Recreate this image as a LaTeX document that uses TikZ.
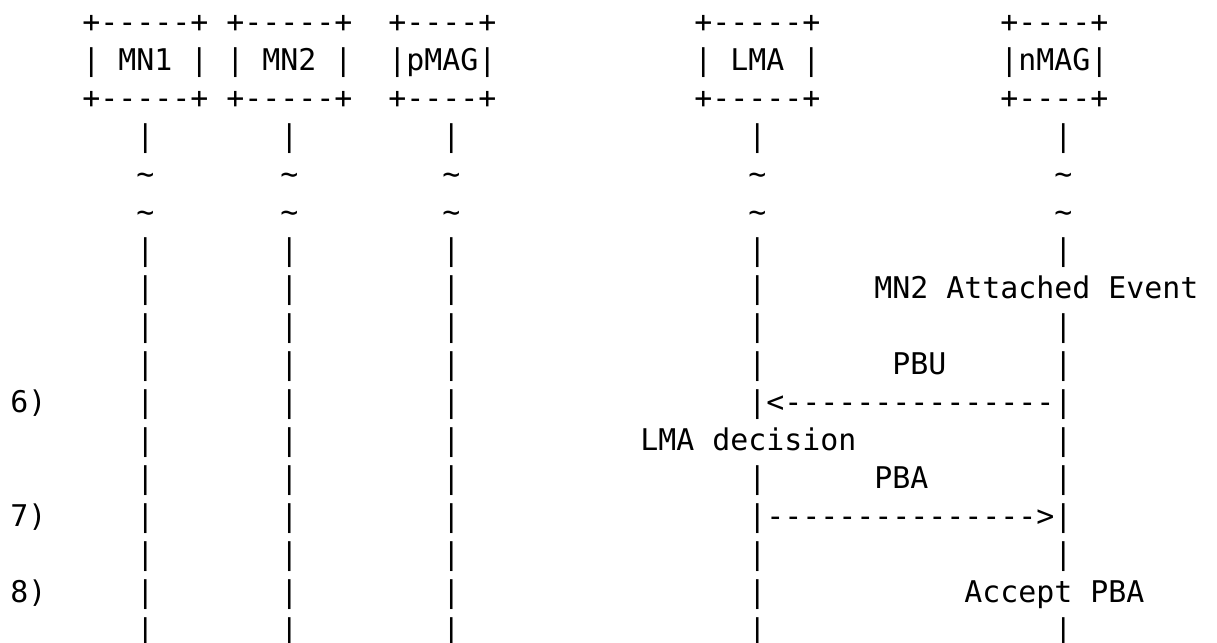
\documentclass[tikz,border=0pt]{standalone}
\usepackage{fontspec}
\setmonofont{DejaVu Sans Mono}
\usetikzlibrary{positioning}

\begin{document}
\begin{tikzpicture}[x=9pt,y=-19pt,shift={(5pt,-16pt)}]
		\tikzstyle{asc}=[font=\ttfamily\fontsize{14.95}{19}\selectfont,inner sep=0pt,anchor=base west]
		\useasboundingbox (-5pt,16pt) rectangle (603.5pt,-305.5pt);
		
		%% Entidades
		\node [asc] (mn1-top)  at (4,0)  {+-----+};
		\node [asc] (mn1)      at (4,1)  {| MN1 |};
		\node [asc] (mn1-bot)  at (4,2)  {+-----+};
		\node [asc] (mn2-top)  at (12,0) {+-----+};
		\node [asc] (mn2)      at (12,1) {| MN2 |};
		\node [asc] (mn2-bot)  at (12,2) {+-----+};
		\node [asc] (pmag-top) at (21,0) {+----+};
		\node [asc] (pmag)     at (21,1) {|pMAG|};
		\node [asc] (pmag-bot) at (21,2) {+----+};
		\node [asc] (lma-top)  at (38,0) {+-----+};
		\node [asc] (lma)      at (38,1) {| LMA |};
		\node [asc] (lma-bot)  at (38,2) {+-----+};
		\node [asc] (nmag-top) at (55,0) {+----+};
		\node [asc] (nmag)     at (55,1) {|nMAG|};
		\node [asc] (nmag-bot) at (55,2) {+----+};
		
		%% Linhas de vida
		\foreach \r in {3,6,8,9,12,14,16}
		\foreach \c/\n in {7/mn1,15/mn2,24/pmag,41/lma,58/nmag}
		\node [asc] (\n-\r) at (\c,\r) {|};
		\foreach \r in {4,5}
		\foreach \c/\n in {7/mn1,15/mn2,24/pmag,41/lma,58/nmag}
		\node [asc] (\n-\r) at (\c,\r) {\textasciitilde};
		\foreach \r in {7,15}
		\foreach \c/\n in {7/mn1,15/mn2,24/pmag,41/lma}
		\node [asc] (\n-\r) at (\c,\r) {|};
		\foreach \r in {10,11,13}
		\foreach \c/\n in {7/mn1,15/mn2,24/pmag}
		\node [asc] (\n-\r) at (\c,\r) {|};
		\node [asc] (nmag-11) at (58,11) {|};
		
		%% Mensagens
		\node [asc] (attach)   at (48,7)  {MN2 Attached Event};
		\node [asc] (pbu)      at (49,9)  {PBU};
		\node [asc] (step6)    at (0,10)  {6)};
		\node [asc] (pbu-msg)  at (41,10) {|<---------------|};
		\node [asc] (decision) at (35,11) {LMA decision};
		\node [asc] (pba)      at (48,12) {PBA};
		\node [asc] (step7)    at (0,13)  {7)};
		\node [asc] (pba-msg)  at (41,13) {|--------------->|};
		\node [asc] (step8)    at (0,15)  {8)};
		\node [asc] (accept)   at (53,15) {Accept PBA};
		
	\end{tikzpicture}
\end{document}
